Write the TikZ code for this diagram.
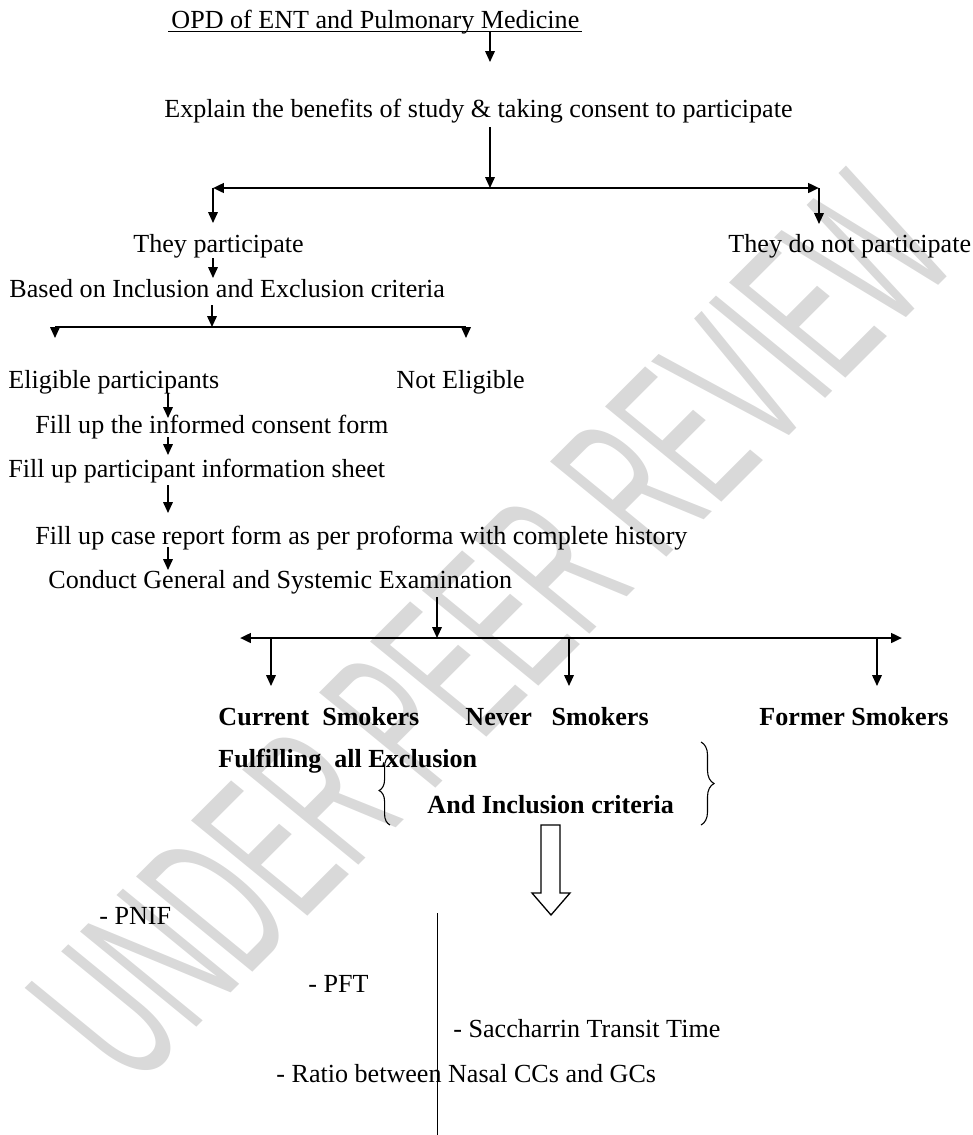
\documentclass[tikz,border=0pt]{standalone}
\usepackage{fontspec}
\setmainfont{Liberation Serif}
\newfontfamily\wmfont{Liberation Sans}
\usetikzlibrary{positioning, arrows.meta, calc, decorations.pathreplacing}

\begin{document}
\begin{tikzpicture}[
        x=0.46pt, y=-0.46pt,
        >={Triangle[length=5pt,width=4.4pt]},
        txt/.style={anchor=base west, inner sep=0pt, font=\fontsize{12}{14}\selectfont},
        boldtxt/.style={txt, font=\fontsize{12}{14}\selectfont\bfseries},
        arr/.style={->, line width=0.7pt},
        splitbar/.style={<->, line width=1.1pt},
        brace/.style={decorate, decoration={brace, amplitude=#1}, line width=0.5pt},
    ]
    \useasboundingbox (0,0) rectangle (973,1135);

    % watermark
    \node[rotate=45, xslant=-0.1, xscale=0.5, text=black!15, font=\fontsize{100}{104}\selectfont\wmfont] (wm) at (492,628) {UNDER PEER REVIEW};

    % steps
    \node[txt] (opd) at (171,28) {OPD of ENT and Pulmonary Medicine};
    \node[txt] (explain) at (164,117) {Explain the benefits of study \& taking consent to participate};
    \node[txt] (yes) at (133,252) {They participate};
    \node[txt] (no) at (728,252) {They do not participate};
    \node[txt] (based) at (9,297) {Based on Inclusion and Exclusion criteria};
    \node[txt] (eligible) at (8,388) {Eligible participants};
    \node[txt] (noteligible) at (396,388) {Not Eligible};
    \node[txt] (consent) at (35,433) {Fill up the informed consent form};
    \node[txt] (sheet) at (8,477) {Fill up participant information sheet};
    \node[txt] (crf) at (35,544) {Fill up case report form as per proforma with complete history};
    \node[txt] (exam) at (48,588) {Conduct General and Systemic Examination};

    % groups
    \node[boldtxt] (current) at (218,725) {Current\ \ Smokers};
    \node[boldtxt] (never) at (465,725) {Never\ \ \ Smokers};
    \node[boldtxt] (former) at (759,725) {Former Smokers};
    \node[boldtxt] (fulfil) at (218,767) {Fulfilling\ \ all Exclusion};
    \node[boldtxt] (inclusion) at (427,813) {And Inclusion criteria};

    % outcomes
    \node[txt] (pnif) at (99,924) {- PNIF};
    \node[txt] (pft) at (308,992) {- PFT};
    \node[txt] (stt) at (453,1037) {- Saccharrin Transit Time};
    \node[txt] (ratio) at (276,1082) {- Ratio between Nasal CCs and GCs};

    % split points
    \coordinate (j0) at (490,188);
    \coordinate (jl) at (213,188);
    \coordinate (jr) at (819,188);
    \coordinate (k0) at (212,327);
    \coordinate (kl) at (55,327);
    \coordinate (kr) at (466,327);
    \coordinate (spine) at (168,388);
    \coordinate (m0) at (437,638);
    \coordinate (ml) at (240,638);
    \coordinate (mr) at (902,638);

    \draw[line width=0.7pt] ($(opd.base west)+(-3,3.5)$) -- ($(opd.base east)+(2,3.5)$);
    \draw[arr] ($(opd.base -| j0)+(0,4)$) -- ++(0,30);
    \draw[arr] ($(explain.base -| j0)+(0,10)$) -- (j0);
    \draw[splitbar] (jl) -- (jr);
    \draw[arr] (jl) -- ++(0,35);
    \draw[arr] (jr) -- ++(0,36);

    \draw[arr] ($(yes.base -| jl)+(0,6)$) -- ++(0,20);
    \draw[arr] ($(based.base -| k0)+(0,8)$) -- (k0);
    \draw[line width=0.7pt] (kl) -- (kr);
    \draw[arr] (kl) -- ++(0,11);
    \draw[arr] (kr) -- ++(0,11);

    \draw[arr] ($(eligible.base -| spine)+(0,5)$) -- ++(0,25);
    \draw[arr] ($(consent.base -| spine)+(0,4)$) -- ++(0,18);
    \draw[arr] ($(sheet.base -| spine)+(0,8)$) -- ++(0,28);
    \draw[arr] ($(crf.base -| spine)+(0,3)$) -- ++(0,23);

    \draw[arr] ($(exam.base -| m0)+(0,9)$) -- (m0);
    \draw[splitbar] (ml) -- (mr);
    \foreach \x in {271,569,877}
        \draw[arr] (\x,638) -- ++(0,48);

    % braces round the criteria
    \draw[brace=5pt] (390,825) -- (390,756);
    \draw[brace=6pt] (701,742) -- (701,825);

    % block arrow down to the outcomes
    \draw[line width=0.6pt, fill=white] (541,825) -- (560,825) -- (560,893) -- (570,893)
        -- (551,915) -- (532,893) -- (541,893) -- cycle;
    \draw[line width=0.6pt] (437.6,913) -- (437.6,1135);
\end{tikzpicture}
\end{document}
